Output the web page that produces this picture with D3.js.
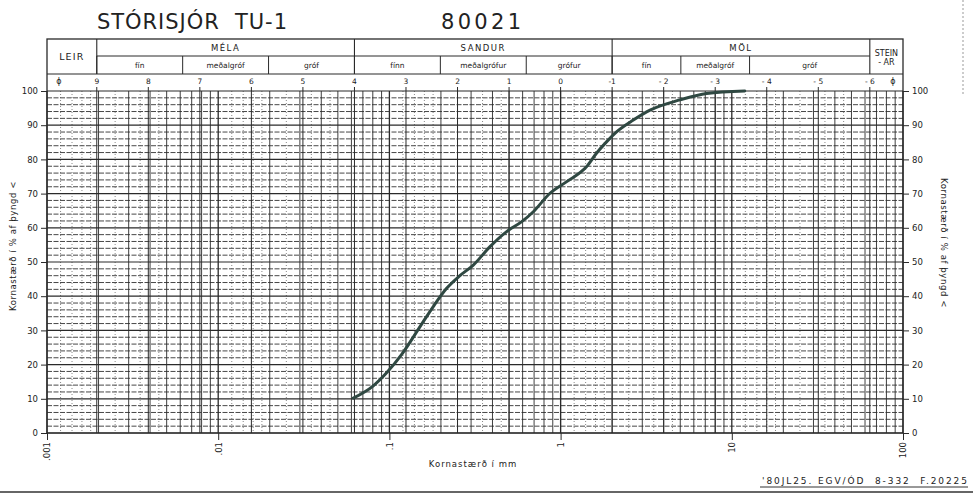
<!DOCTYPE html>
<html>
<head>
<meta charset="utf-8">
<script src="https://cdn.jsdelivr.net/npm/d3@7"></script>
<style>
  html, body { margin: 0; padding: 0; background: #fff; }
  svg { display: block; }
  text { font-family: "DejaVu Sans", "Liberation Sans", sans-serif; fill: #222; white-space: pre; }
</style>
</head>
<body>
<svg id="chart" width="973" height="497"></svg>
<script>
// ---------------- DATA ----------------
const titleLeft = "STÓRISJÓR  TU-1";
const titleRight = "80021";
const grainSizeMm = [0.0615, 0.0805, 0.0975, 0.118, 0.151, 0.180, 0.216, 0.258, 0.309, 0.387, 0.484, 0.593, 0.693, 0.867, 1.086, 1.42, 1.62, 1.86, 2.13, 2.66, 3.33, 4.98, 7.13, 11.9];
const percentPassing = [10.2, 13.8, 17.9, 23.0, 31.1, 36.9, 42.3, 46.0, 49.1, 54.5, 58.9, 61.8, 64.7, 70.1, 73.5, 77.9, 81.8, 85.2, 88.1, 91.5, 94.4, 97.4, 99.3, 100];
const percentTicks = [0, 10, 20, 30, 40, 50, 60, 70, 80, 90, 100];
const phiTicks = [9, 8, 7, 6, 5, 4, 3, 2, 1, 0, -1, -2, -3, -4, -5, -6];
const phiTickLabels = ["9", "8", "7", "6", "5", "4", "3", "2", "1", "0", "-1", "- 2", "- 3", "- 4", "- 5", "- 6"];
const mmTicks = [0.001, 0.01, 0.1, 1, 10, 100];
const mmTickLabels = [".001", ".01", ".1", "1", "10", "100"];
const mainClasses = ["LEIR", "MÉLA", "SANDUR", "MÖL", "STEIN"];
const mainClassPhi = [[null, 9], [9, 4], [4, -1], [-1, -6], [-6, null]];
const subClasses = ["fín", "meðalgróf", "gróf", "fínn", "meðalgrófur", "grófur", "fín", "meðalgróf", "gróf"];
const subClassPhi = [[9, 22/3], [22/3, 17/3], [17/3, 4], [4, 7/3], [7/3, 2/3], [2/3, -1], [-1, -7/3], [-7/3, -11/3], [-11/3, -6]];
const yTitle = "Kornastærð í % af þyngd <";
const xTitle = "Kornastærð í mm";
const footer = "'80JL25. EGV/ÓD  8-332  F.20225";

// ---------------- LAYOUT ----------------
const svg = d3.select("#chart");
const L = 47, R = 903, T = 91, B = 433;
const tableTop = 39, rowMid = 56, phiRowTop = 74;

const x = d3.scaleLog().domain([0.001, 100]).range([L, R]);
const y = d3.scaleLinear().domain([0, 100]).range([B, T]);
const phiToMm = p => Math.pow(2, -p);
const xPhi = p => x(phiToMm(p));

const ink = "#2a2a2a";

// ---------------- GRID ----------------
const grid = svg.append("g");

const hMinor = d3.range(0, 101, 2).filter(v => v % 10 !== 0);
grid.selectAll("line.hmin").data(hMinor).enter().append("line")
  .attr("x1", L).attr("x2", R)
  .attr("y1", d => y(d)).attr("y2", d => y(d))
  .attr("stroke", "#333").attr("stroke-width", 0.9)
  .attr("stroke-dasharray", "5,1.5");

const fineFactors = [1.2, 1.4, 1.6, 1.8, 2.5, 3.5, 4.5];
const fineVals = [];
[0.001, 0.01, 0.1, 1, 10].forEach(dec => fineFactors.forEach(f => fineVals.push(dec * f)));
grid.selectAll("line.vfine").data(fineVals).enter().append("line")
  .attr("x1", d => x(d)).attr("x2", d => x(d))
  .attr("y1", T).attr("y2", B)
  .attr("stroke", "#555").attr("stroke-width", 0.7)
  .attr("stroke-dasharray", "1,2");

const logVals = [];
[0.001, 0.01, 0.1, 1, 10].forEach(dec => d3.range(1, 10).forEach(k => logVals.push(dec * k)));
logVals.push(100);
grid.selectAll("line.vlog").data(logVals).enter().append("line")
  .attr("x1", d => x(d)).attr("x2", d => x(d))
  .attr("y1", T).attr("y2", B)
  .attr("stroke", ink)
  .attr("stroke-width", d => Math.abs(Math.log10(d) - Math.round(Math.log10(d))) < 1e-9 ? 1.3 : 0.9);

grid.selectAll("line.vphi").data(phiTicks).enter().append("line")
  .attr("x1", d => xPhi(d)).attr("x2", d => xPhi(d))
  .attr("y1", T).attr("y2", B)
  .attr("stroke", ink).attr("stroke-width", 1);

grid.selectAll("line.hmaj").data(percentTicks).enter().append("line")
  .attr("x1", L).attr("x2", R)
  .attr("y1", d => y(d)).attr("y2", d => y(d))
  .attr("stroke", ink).attr("stroke-width", 1.2);

// ---------------- AXES ----------------
const yLeft = svg.append("g").attr("transform", `translate(${L},0)`)
  .call(d3.axisLeft(y).tickValues(percentTicks).tickSize(6).tickPadding(3));
const yRight = svg.append("g").attr("transform", `translate(${R},0)`)
  .call(d3.axisRight(y).tickValues(percentTicks).tickSize(6).tickPadding(3));
[yLeft, yRight].forEach(g => {
  g.select(".domain").remove();
  g.selectAll("line").attr("stroke", ink).attr("stroke-width", 1);
  g.selectAll("text").attr("font-size", 8.5).attr("fill", "#333")
    .style("font-family", "'DejaVu Sans', sans-serif");
});

const xAxis = svg.append("g").attr("transform", `translate(0,${B})`)
  .call(d3.axisBottom(x).tickValues(mmTicks).tickFormat((d, i) => mmTickLabels[i]).tickSize(7));
xAxis.select(".domain").remove();
xAxis.selectAll("line").attr("stroke", ink).attr("stroke-width", 1);
xAxis.selectAll("text")
  .attr("font-size", 8.5).attr("fill", "#333")
  .attr("text-anchor", "end")
  .attr("transform", "rotate(-90)")
  .attr("x", -9).attr("y", 0).attr("dy", "0.33em")
  .style("font-family", "'DejaVu Sans', sans-serif");

// ---------------- HEADER TABLE ----------------
const hdr = svg.append("g");
const clsX = b => b === null ? null : xPhi(b);
hdr.append("rect").attr("x", L).attr("y", tableTop).attr("width", R - L).attr("height", B - tableTop)
  .attr("fill", "none").attr("stroke", ink).attr("stroke-width", 1.3);
hdr.append("line").attr("x1", L).attr("x2", R).attr("y1", phiRowTop).attr("y2", phiRowTop)
  .attr("stroke", ink).attr("stroke-width", 1.2);
hdr.append("line").attr("x1", xPhi(9)).attr("x2", xPhi(-6)).attr("y1", rowMid).attr("y2", rowMid)
  .attr("stroke", ink).attr("stroke-width", 1);

mainClasses.forEach((name, i) => {
  const [a, b] = mainClassPhi[i];
  const x0 = a === null ? L : clsX(a);
  const x1 = b === null ? R : clsX(b);
  if (i > 0) hdr.append("line").attr("x1", x0).attr("x2", x0).attr("y1", tableTop).attr("y2", phiRowTop)
    .attr("stroke", ink).attr("stroke-width", 1.1);
  const spanning = (a === null || b === null);
  if (name === "STEIN") {
    hdr.append("text").attr("x", (x0 + x1) / 2).attr("y", 56).attr("text-anchor", "middle")
      .attr("font-size", 8).text("STEIN");
    hdr.append("text").attr("x", (x0 + x1) / 2).attr("y", 65).attr("text-anchor", "middle")
      .attr("font-size", 8).text("- AR");
  } else {
    hdr.append("text").attr("x", (x0 + x1) / 2).attr("y", spanning ? 60 : 51).attr("text-anchor", "middle")
      .attr("font-size", spanning ? 9.5 : 8.5).attr("letter-spacing", spanning ? 1.2 : 1.5).text(name);
  }
});
subClasses.forEach((name, i) => {
  const [a, b] = subClassPhi[i];
  const x0 = clsX(a), x1 = clsX(b);
  hdr.append("line").attr("x1", x0).attr("x2", x0).attr("y1", rowMid).attr("y2", phiRowTop)
    .attr("stroke", ink).attr("stroke-width", 1);
  hdr.append("text").attr("x", (x0 + x1) / 2).attr("y", 68).attr("text-anchor", "middle")
    .attr("font-size", 7.5).text(name);
});

hdr.selectAll("text.phi").data(phiTicks).enter().append("text")
  .attr("x", d => xPhi(d)).attr("y", 84).attr("text-anchor", "middle")
  .attr("font-size", 7.5).text((d, i) => phiTickLabels[i]);
hdr.selectAll("line.phitick").data(phiTicks).enter().append("line")
  .attr("x1", d => xPhi(d)).attr("x2", d => xPhi(d))
  .attr("y1", 87).attr("y2", T).attr("stroke", ink).attr("stroke-width", 1);
hdr.append("text").attr("x", 59).attr("y", 84).attr("text-anchor", "middle").attr("font-size", 8).text("ϕ");
hdr.append("text").attr("x", 893).attr("y", 84).attr("text-anchor", "middle").attr("font-size", 8).text("ϕ");

// ---------------- CURVE ----------------
const pts = grainSizeMm.map((d, i) => [d, percentPassing[i]]);
const line = d3.line().x(d => x(d[0])).y(d => y(d[1])).curve(d3.curveMonotoneX);
svg.append("path").datum(pts).attr("d", line)
  .attr("fill", "none").attr("stroke", "#2f4842").attr("stroke-width", 3)
  .attr("stroke-linecap", "round").attr("stroke-linejoin", "round");

// ---------------- TITLES ----------------
svg.append("text").attr("x", 97).attr("y", 29).attr("font-size", 21)
  .attr("textLength", 190).attr("lengthAdjust", "spacing")
  .attr("fill", "#1a1a1a").text(titleLeft);
svg.append("text").attr("x", 441).attr("y", 29).attr("font-size", 21)
  .attr("textLength", 80).attr("lengthAdjust", "spacing")
  .attr("fill", "#1a1a1a").text(titleRight);

svg.append("text").attr("transform", "translate(16,246) rotate(-90)")
  .attr("text-anchor", "middle").attr("font-size", 8.5).attr("fill", "#333")
  .attr("letter-spacing", 0.6).text(yTitle);
svg.append("text").attr("transform", "translate(941,243) rotate(90)")
  .attr("text-anchor", "middle").attr("font-size", 8.5).attr("fill", "#333")
  .attr("letter-spacing", 0.6).text(yTitle);
svg.append("text").attr("x", 473).attr("y", 467).attr("text-anchor", "middle")
  .attr("font-size", 8.5).attr("fill", "#333").attr("letter-spacing", 1).text(xTitle);

// footer
svg.append("text").attr("x", 762).attr("y", 484)
  .attr("font-size", 9).attr("fill", "#333")
  .attr("textLength", 205).attr("lengthAdjust", "spacing").text(footer);
svg.append("line").attr("x1", 760).attr("x2", 968).attr("y1", 487).attr("y2", 487)
  .attr("stroke", "#333").attr("stroke-width", 1);
svg.append("line").attr("x1", 0).attr("x2", 973).attr("y1", 492).attr("y2", 492)
  .attr("stroke", "#333").attr("stroke-width", 1.3);
svg.append("line").attr("x1", 963).attr("x2", 963).attr("y1", 0).attr("y2", 95)
  .attr("stroke", "#999").attr("stroke-width", 1).attr("stroke-dasharray", "2,2");
</script>
</body>
</html>
